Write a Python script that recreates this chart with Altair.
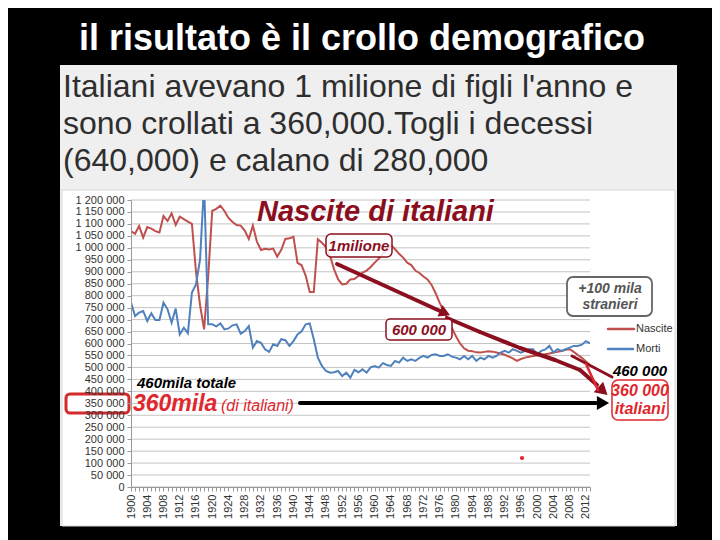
import altair as alt
import pandas as pd

# ---------------- data ----------------
YEARS = list(range(1900, 2014))

NASCITE_K = [
    1070, 1059, 1091, 1043, 1087, 1080, 1070, 1064, 1133, 1112,   # 1900s
    1144, 1096, 1130, 1120, 1110, 1100, 900, 760, 659, 880,       # 1910s
    1155, 1163, 1176, 1154, 1125, 1108, 1095, 1093, 1072, 1037,   # 1920s
    1093, 1026, 991, 996, 993, 997, 963, 992, 1037, 1040,         # 1930s
    1046, 937, 927, 884, 815, 815, 1036, 1021, 1003, 966,         # 1940s
    910, 868, 847, 850, 868, 870, 882, 896, 905, 920,             # 1950s
    938, 955, 975, 990, 1012, 994, 975, 959, 938, 928,            # 1960s
    905, 895, 880, 868, 845, 810, 770, 735, 700, 665,             # 1970s
    630, 600, 580, 570, 568, 563, 562, 565, 568, 566,             # 1980s
    562, 558, 553, 545, 538, 527, 535, 541, 545, 548,             # 1990s
    550, 552, 555, 558, 562, 565, 569, 574, 576, 565,             # 2000s
    552, 540, 525, 510,                                           # 2010-2013
]

MORTI_K = [
    771, 715, 729, 736, 694, 726, 698, 698, 771, 743,
    687, 746, 638, 666, 643, 813, 847, 952, 1268, 680,
    680, 672, 684, 659, 663, 676, 680, 641, 652, 673,
    583, 610, 603, 576, 565, 597, 590, 618, 614, 590,
    610, 638, 651, 680, 684, 618, 541, 506, 485, 478,
    480, 485, 464, 478, 457, 490, 480, 492, 478, 500,
    506, 499, 518, 510, 506, 527, 520, 541, 527, 534,
    527, 540, 548, 541, 552, 555, 548, 548, 555, 545,
    541, 534, 548, 534, 548, 527, 541, 534, 548, 541,
    548, 562, 569, 562, 576, 569, 562, 569, 576, 576,
    555, 569, 575, 590, 562, 576, 569, 576, 583, 590,
    590, 595, 610, 600,
]

SERIES = ["Nascite", "Morti"]
Y_TICKS = list(range(0, 1200001, 50000))
X_TICK_YEARS = list(range(1900, 2014))

df = pd.DataFrame({
    "anno": YEARS * 2,
    "valore": [v * 1000 for v in NASCITE_K] + [v * 1000 for v in MORTI_K],
    "serie": [SERIES[0]] * len(YEARS) + [SERIES[1]] * len(YEARS),
})
grid_df = pd.DataFrame({"valore": Y_TICKS})

# ---------------- style ----------------
RED = "#c0504d"
BLUE = "#4f81bd"
DARKRED = "#8c0f1f"
BRIGHTRED = "#e0272e"
FONT = "Liberation Sans"

OX, OY = 131, 200      # page position of plot origin
W, H = 459, 287

one = alt.InlineData(values=[{"a": 1}])


def txt(s, X, Y, size, color, weight="normal", style="normal", align="left",
        baseline="alphabetic"):
    return alt.Chart(one).mark_text(
        text=s, align=align, baseline=baseline, fontSize=size, fontWeight=weight,
        fontStyle=style, color=color, font=FONT
    ).encode(x=alt.value(X - OX), y=alt.value(Y - OY))


def box(X1, Y1, X2, Y2, fill, stroke=None, sw=0, r=0, fo=1.0):
    kw = dict(fill=fill, fillOpacity=fo, cornerRadius=r)
    if stroke:
        kw.update(stroke=stroke, strokeWidth=sw)
    return alt.Chart(one).mark_rect(**kw).encode(
        x=alt.value(X1 - OX), x2=alt.value(X2 - OX),
        y=alt.value(Y1 - OY), y2=alt.value(Y2 - OY))


def seg(X1, Y1, X2, Y2, color, w):
    return alt.Chart(one).mark_rule(color=color, strokeWidth=w, strokeCap="round").encode(
        x=alt.value(X1 - OX), x2=alt.value(X2 - OX),
        y=alt.value(Y1 - OY), y2=alt.value(Y2 - OY))


def head(X, Y, angle, color, size):
    return alt.Chart(one).mark_point(
        shape="triangle-right", filled=True, angle=angle, size=size,
        color=color, opacity=1
    ).encode(x=alt.value(X - OX), y=alt.value(Y - OY))


xscale = alt.Scale(domain=[1900, 2013], nice=False, zero=False)
yscale = alt.Scale(domain=[0, 1200000], nice=False)
yaxis = alt.Axis(
    values=Y_TICKS,
    labelExpr="replace(replace(format(datum.value, ','), ',', ' '), ',', ' ')",
    labelOverlap=False, grid=False, tickSize=4, tickColor="#999999",
    domainColor="#999999", labelFontSize=11, labelColor="#333333",
    labelFont=FONT, labelPadding=3, title=None, zindex=1)
xaxis = alt.Axis(
    values=X_TICK_YEARS, format="d",
    labelExpr="datum.value % 4 == 0 ? datum.label : ''",
    labelAngle=270, labelOverlap=False, grid=False, tickSize=4,
    tickColor="#999999", domainColor="#999999", labelFontSize=11,
    labelColor="#333333", labelFont=FONT, labelPadding=3, title=None, zindex=1)

layers = []
# panel backgrounds
layers.append(box(60, 65, 677, 526, "#efefef"))
layers.append(box(62, 190, 675, 526, "#ffffff", stroke="#d8d8d8", sw=1))

# slide title & panel text
layers.append(txt("il risultato è il crollo demografico", 362, 50, 36, "white", weight="bold", align="center"))
layers.append(txt("Italiani avevano 1 milione di figli l'anno e", 63, 97, 32, "#2e2e2e"))
layers.append(txt("sono crollati a 360,000.Togli i decessi", 63, 134, 32, "#2e2e2e"))
layers.append(txt("(640,000) e calano di 280,000", 63, 171, 32, "#2e2e2e"))

# gridlines
layers.append(alt.Chart(grid_df).mark_rule(color="#c4c4c4", strokeWidth=1).encode(
    x=alt.value(0), x2=alt.value(W),
    y=alt.Y("valore:Q", scale=yscale, axis=yaxis)))

# data lines
lines = alt.Chart(df).mark_line(strokeWidth=2, clip=True).encode(
    x=alt.X("anno:Q", scale=xscale, axis=xaxis),
    y=alt.Y("valore:Q", scale=yscale, axis=yaxis),
    color=alt.Color("serie:N", scale=alt.Scale(domain=SERIES, range=[RED, BLUE]), legend=None),
)
layers.append(lines)

# manual legend
layers.append(seg(608, 329, 634, 329, RED, 2.5))
layers.append(txt("Nascite", 636, 329, 11, "#333333", baseline="middle"))
layers.append(seg(608, 349, 633, 349, BLUE, 2.5))
layers.append(txt("Morti", 636, 349, 11, "#333333", baseline="middle"))

# chart title annotation
layers.append(txt("Nascite di italiani", 257, 221, 29, "#8b0e1e", weight="bold", style="italic"))

# dark red arrows
layers.append(seg(337, 264, 440, 311, DARKRED, 4))
layers.append(head(445, 313, 24, DARKRED, 160))
pts = [(447, 318), (480, 332), (520, 348), (555, 360), (580, 370), (597, 385)]
for (a, b), (c, d) in zip(pts[:-1], pts[1:]):
    layers.append(seg(a, b, c, d, DARKRED, 4))
layers.append(head(603, 391, 42, DARKRED, 200))
layers.append(seg(572, 356, 612, 377, DARKRED, 3))
layers.append(seg(586, 364, 598, 390, BRIGHTRED, 2.5))

# boxes with labels
layers.append(box(326, 234, 392, 257, "white", stroke=DARKRED, sw=1.5, r=5, fo=0.85))
layers.append(txt("1milione", 359, 246, 15, DARKRED, weight="bold", style="italic", align="center", baseline="middle"))
layers.append(box(386, 319, 452, 340, "white", stroke=DARKRED, sw=1.5, r=4))
layers.append(txt("600 000", 419, 330, 15, DARKRED, weight="bold", style="italic", align="center", baseline="middle"))
layers.append(box(567, 277, 652, 316, "white", stroke="#666666", sw=1.8, r=6))
layers.append(txt("+100 mila", 610, 289, 14, "#555555", weight="bold", style="italic", align="center", baseline="middle"))
layers.append(txt("stranieri", 610, 305, 14, "#555555", weight="bold", style="italic", align="center", baseline="middle"))

layers.append(txt("460 000", 640, 371, 15, "black", weight="bold", style="italic", align="center", baseline="middle"))
layers.append(box(612, 380, 668, 420, "white", stroke=BRIGHTRED, sw=1.5, r=6))
layers.append(txt("360 000", 640, 391, 16, BRIGHTRED, weight="bold", style="italic", align="center", baseline="middle"))
layers.append(txt("italiani", 640, 409, 16, BRIGHTRED, weight="bold", style="italic", align="center", baseline="middle"))

# left annotations
layers.append(txt("460mila totale", 137, 388, 15, "black", weight="bold", style="italic"))
layers.append(box(66, 394, 129, 413, "transparent", stroke="#d42a2a", sw=3, r=4, fo=0))
layers.append(txt("360mila", 133, 411, 23, BRIGHTRED, weight="bold", style="italic"))
layers.append(txt("(di italiani)", 221, 411, 16, BRIGHTRED, style="italic"))

# black arrow
layers.append(seg(300, 403, 596, 403, "black", 4))
layers.append(head(603, 403, 0, "black", 200))

# small red dot
layers.append(alt.Chart(one).mark_point(filled=True, size=18, color=BRIGHTRED, opacity=1).encode(
    x=alt.value(522 - OX), y=alt.value(458 - OY)))

chart = alt.layer(*layers).properties(
    width=W, height=H,
    autosize=alt.AutoSizeParams(type="none"),
    padding={"left": OX - 8, "top": OY - 8, "right": 720 - 16 - (OX - 8) - W, "bottom": 540 - 16 - (OY - 8) - H + 8},
).configure(background="black").configure_view(stroke=None)

chart.save("out.html", embed_options={"renderer": "svg", "actions": False})
